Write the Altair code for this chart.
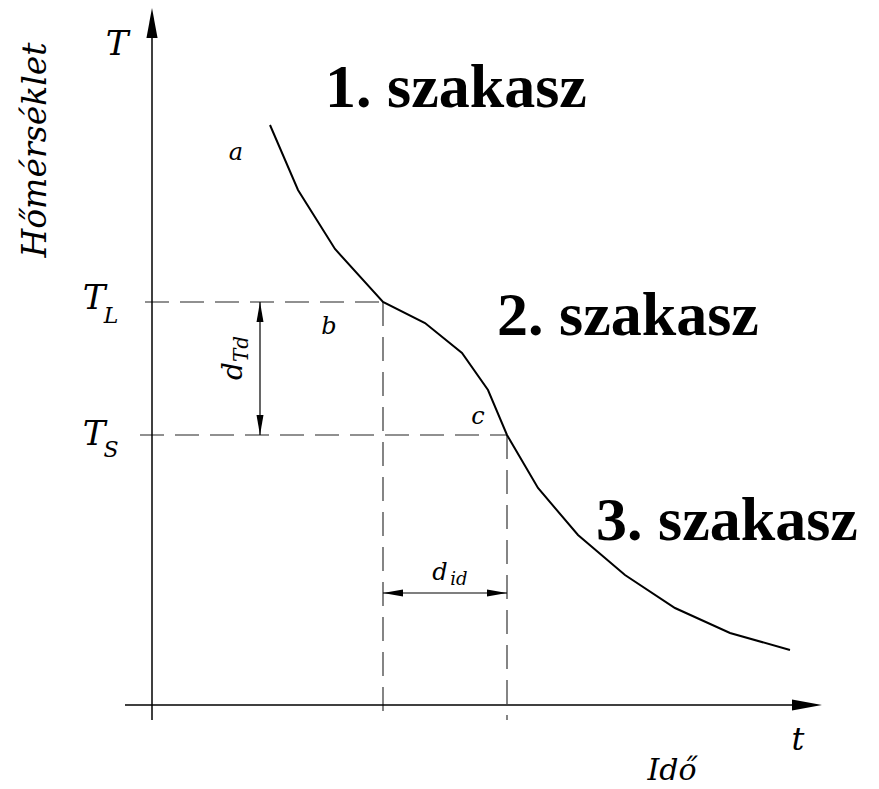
import altair as alt
import pandas as pd

# Cooling curve: time (t) and temperature (T), arbitrary units
curve_t = [11.8, 14.6, 18.3, 23.1, 27.3, 31.0, 33.6, 35.5, 38.6, 42.6, 47.3, 52.3, 57.8, 63.8]
curve_T = [58.0, 51.5, 45.6, 40.3, 38.2, 35.2, 31.5, 27.0, 21.7, 17.0, 13.0, 9.7, 7.2, 5.5]

# Liquidus / solidus temperatures and the times they are reached
T_L, T_S = 40.3, 27.0
t_L, t_S = 23.1, 35.5

# Where the two dimension arrows sit
dT_at_t = 10.8     # d_Td drawn at this time
did_at_T = 11.2    # d_id drawn at this temperature

# Axis extents
t_min, t_max, t_tip = -2.7, 65.0, 67.0
T_min, T_max, T_tip = -1.5, 67.0, 69.7

stage_labels = ["1. szakasz", "2. szakasz", "3. szakasz"]
stage_t = [30.4, 47.6, 57.5]
stage_T = [61.7, 38.9, 18.4]

point_labels = ["a", "b", "c"]
point_t = [8.4, 17.7, 32.6]
point_T = [55.2, 37.8, 28.8]

W, H = 879, 789
xs = alt.Scale(domain=[-15.2, 72.7], nice=False, zero=False)
ys = alt.Scale(domain=[-8.4, 70.5], nice=False, zero=False)


def enc(**extra):
    return dict(x=alt.X("t:Q", scale=xs, axis=None),
                y=alt.Y("T:Q", scale=ys, axis=None), **extra)


def segments(rows):
    return pd.DataFrame(rows, columns=["t", "T", "t2", "T2"])


def seg_layer(df, **mark):
    return alt.Chart(df).mark_rule(**mark).encode(
        x=alt.X("t:Q", scale=xs, axis=None),
        y=alt.Y("T:Q", scale=ys, axis=None),
        x2="t2:Q", y2="T2:Q")


axes = seg_layer(segments([
    [0, T_min, 0, T_max],
    [t_min, 0, t_max, 0],
]), color="black", strokeWidth=1.5)

dashed = seg_layer(segments([
    [-0.7, T_L, t_L, T_L],
    [-1.2, T_S, t_S, T_S],
    [t_L, T_L, t_L, T_min],
    [t_S, T_S, t_S, T_min],
]), color="#222", strokeWidth=1.1, strokeDash=[24, 11])

dims = seg_layer(segments([
    [dT_at_t, T_S, dT_at_t, T_L],
    [t_L, did_at_T, t_S, did_at_T],
]), color="black", strokeWidth=1.2)

curve = alt.Chart(pd.DataFrame({"t": curve_t, "T": curve_T})).mark_line(
    color="black", strokeWidth=2).encode(**enc())

ARROW = "M0,-1L0.37,1L-0.37,1Z"
big_heads = alt.Chart(pd.DataFrame({
    "t": [0, t_tip - 1.5], "T": [T_tip - 1.5, 0], "ang": [0, 90]})).mark_point(
    shape=ARROW, filled=True, color="black", opacity=1, size=900, strokeWidth=0
).encode(**enc(angle=alt.Angle("ang:Q", scale=None)))

small_heads = alt.Chart(pd.DataFrame({
    "t": [dT_at_t, dT_at_t, t_L + 1.0, t_S - 1.0],
    "T": [T_L - 1.0, T_S + 1.0, did_at_T, did_at_T],
    "ang": [0, 180, 270, 90]})).mark_point(
    shape="M0,-1L0.35,1L-0.35,1Z", filled=True, color="black", opacity=1,
    size=400, strokeWidth=0
).encode(**enc(angle=alt.Angle("ang:Q", scale=None)))

MATH = "DejaVu Serif"
BOLD = "Liberation Serif"


def texts(labels, ts, Ts, size, font=MATH, style="italic", weight="normal", angle=0):
    df = pd.DataFrame({"label": labels, "t": ts, "T": Ts})
    return alt.Chart(df).mark_text(
        font=font, fontSize=size, fontStyle=style, fontWeight=weight,
        align="center", baseline="middle", angle=angle, color="black"
    ).encode(**enc(text="label:N"))


stages = texts(stage_labels, stage_t, stage_T, 62, font=BOLD,
               style="normal", weight="bold")
points = texts(point_labels, point_t, point_T, 24)

T_main = texts(["T", "T", "T"], [-3.5, -5.8, -5.8], [66.0, T_L + 0.3, T_S], 34)
T_subs = texts(["L", "S"], [-4.1, -4.1], [T_L - 1.4, T_S - 1.5], 22)
t_lab = texts(["t"], [64.6], [-3.5], 32)
ido = texts(["Idő"], [52.0], [-6.6], 30)
homer = texts(["Hőmérséklet"], [-11.6], [55.5], 33, angle=270)

dTd_d = texts(["d"], [8.2], [33.4], 28, angle=270)
dTd_s = texts(["Td"], [9.0], [35.6], 20, angle=270)
did_d = texts(["d"], [28.8], [13.2], 24)
did_s = texts(["id"], [30.7], [12.5], 18)

chart = alt.layer(
    dashed, dims, axes, curve, big_heads, small_heads,
    stages, points, T_main, T_subs, t_lab, ido, homer,
    dTd_d, dTd_s, did_d, did_s
).properties(
    width=W, height=H, padding=0, autosize="none", background="white"
).configure_view(stroke=None)

chart.save("out.html", embed_options={"renderer": "svg", "actions": False})
